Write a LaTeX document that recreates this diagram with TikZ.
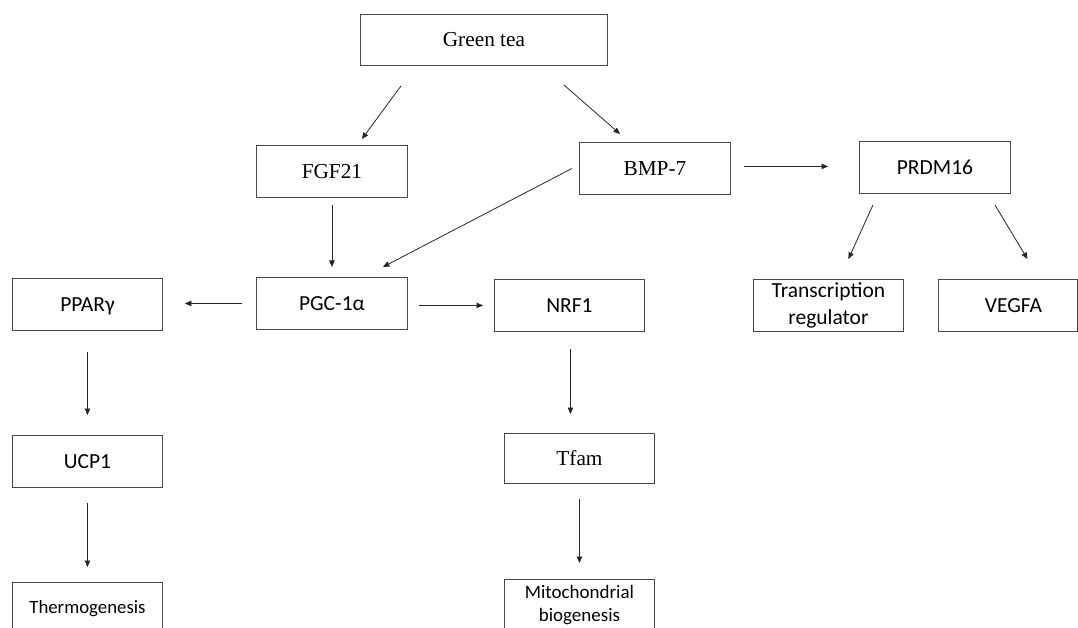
\documentclass[tikz,border=0pt]{standalone}
\usepackage{fontspec}
\setmainfont{Liberation Serif}
\newfontfamily\calfont{Carlito}
\usetikzlibrary{arrows.meta}
\tikzset{
  box/.style={draw=black!72, line width=0.9pt, inner sep=0pt, minimum height=52pt, minimum width=151pt, anchor=north west, align=center},
  serifbox/.style={box, font=\fontsize{21.3}{25}\selectfont},
  sansbox/.style={box, font=\calfont\fontsize{21.5}{27}\selectfont},
  oneline/.style={text height=14pt, text depth=0pt},
  conn/.style={draw=black!85, line width=0.8pt, -{Triangle[length=6.5pt,width=5.5pt]}}
}
\begin{document}
\begin{tikzpicture}[x=1pt,y=-1pt]
\useasboundingbox (0,0) rectangle (1078,628);
\clip (0,0) rectangle (1078,628);
% nodes
\node[serifbox, minimum width=247pt, minimum height=51pt] (gt) at (360,14) {Green tea};
\node[serifbox] (fgf) at (256,145) {FGF21};
\node[serifbox] (bmp) at (579,142) {BMP-7};
\node[sansbox, oneline] (prdm) at (859,141) {PRDM16};
\node[sansbox, oneline] (pgc) at (256,277) {PGC-1α};
\node[sansbox, oneline, minimum width=150pt] (ppar) at (12,278) {PPARγ};
\node[sansbox, oneline, minimum width=150pt] (nrf) at (494,279) {NRF1};
\node[sansbox, minimum width=150pt] (tr) at (753,279) {Transcription\\regulator};
\node[sansbox, oneline, minimum width=139pt] (veg) at (938,279) {\hspace*{11pt}VEGFA};
\node[sansbox, oneline, minimum width=150pt] (ucp) at (12,435) {UCP1};
\node[sansbox, minimum width=150pt, font=\calfont\fontsize{18.8}{23}\selectfont] (th) at (12,582) {Thermogenesis};
\node[serifbox, minimum width=150pt, minimum height=50pt] (tf) at (504,433) {Tfam};
\node[sansbox, minimum width=150pt, font=\calfont\fontsize{19}{23}\selectfont] (mi) at (504,579) {Mitochondrial\\biogenesis};
% connectors
\draw[conn] ([shift={(41,20)}]gt.south west) -- ([shift={(-46,-6)}]fgf.north east);
\draw[conn] ([shift={(-44,19)}]gt.south east) -- ([shift={(41,-8)}]bmp.north west);
\draw[conn] ([shift={(0,7)}]fgf.south) -- ([shift={(0,-10)}]pgc.north);
\draw[conn] ([shift={(-7,0)}]bmp.west) -- ([shift={(-25,-10)}]pgc.north east);
\draw[conn] ([shift={(13,-2)}]bmp.east) -- ([shift={(-31,-1)}]prdm.west);
\draw[conn] ([shift={(-14,0)}]pgc.west) -- ([shift={(22,-1)}]ppar.east);
\draw[conn] ([shift={(11,2)}]pgc.east) -- ([shift={(-11,0)}]nrf.west);
\draw[conn] ([shift={(14,11)}]prdm.south west) -- ([shift={(20,-20)}]tr.north);
\draw[conn] ([shift={(-16,11)}]prdm.south east) -- ([shift={(19.5,-20)}]veg.north);
\draw[conn] ([shift={(0,21)}]ppar.south) -- ([shift={(0,-20)}]ucp.north);
\draw[conn] ([shift={(0,15)}]ucp.south) -- ([shift={(0,-15)}]th.north);
\draw[conn] ([shift={(1,17)}]nrf.south) -- ([shift={(-9,-19)}]tf.north);
\draw[conn] ([shift={(0,15)}]tf.south) -- ([shift={(0,-16)}]mi.north);
\end{tikzpicture}
\end{document}
